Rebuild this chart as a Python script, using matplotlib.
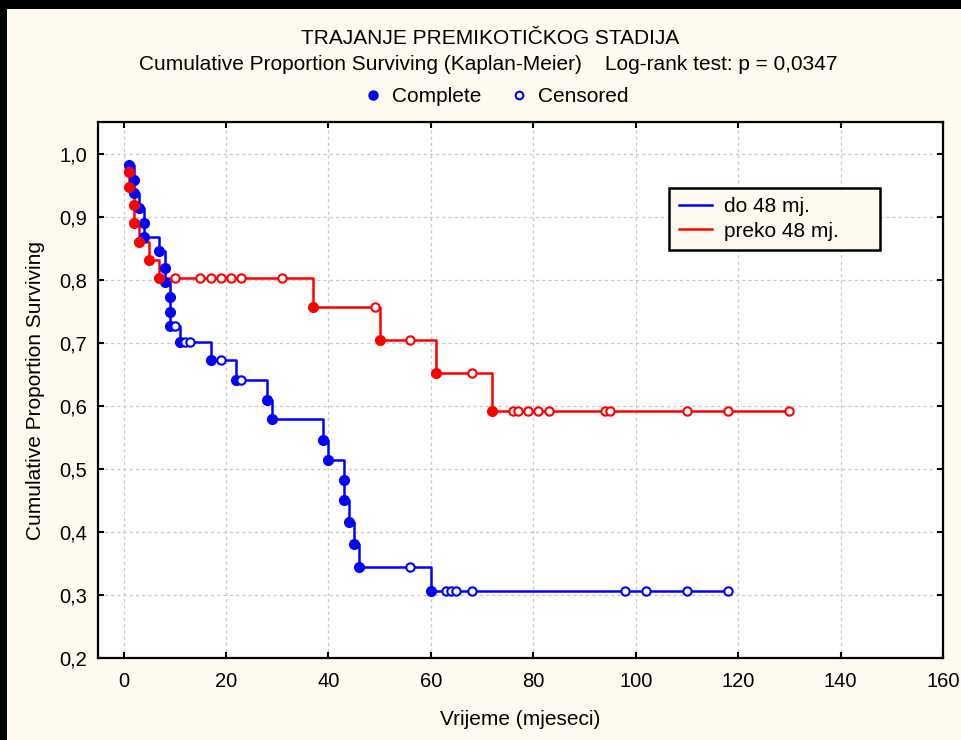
import numpy as np
import matplotlib
matplotlib.use('Agg')
import matplotlib.pyplot as plt
from matplotlib.lines import Line2D
from matplotlib.patches import Rectangle

plt.rcParams['font.family'] = ['Liberation Sans', 'DejaVu Sans']

# ---------------- data ----------------
title = "TRAJANJE PREMIKOTIČKOG STADIJA"
subtitle = "Cumulative Proportion Surviving (Kaplan-Meier)    Log-rank test: p = 0,0347"
series_names = ["do 48 mj.", "preko 48 mj."]
marker_names = ["Complete", "Censored"]
x_label = "Vrijeme (mjeseci)"
y_label = "Cumulative Proportion Surviving"
x_ticks = [0, 20, 40, 60, 80, 100, 120, 140, 160]
y_ticks = [0.2, 0.3, 0.4, 0.5, 0.6, 0.7, 0.8, 0.9, 1.0]

do48_event_t = [1, 2, 2, 3, 4, 4, 7, 8, 8, 9, 9, 9, 11, 17, 22, 28, 29,
                39, 40, 43, 43, 44, 45, 46, 60]
do48_event_s = [0.982, 0.958, 0.937, 0.913, 0.890, 0.867, 0.845, 0.819, 0.796,
                0.772, 0.749, 0.727, 0.701, 0.673, 0.641, 0.609, 0.579, 0.546,
                0.514, 0.483, 0.451, 0.415, 0.381, 0.345, 0.307]
do48_cens_t = [10, 12, 13, 19, 23, 56, 63, 64, 65, 68, 98, 102, 110, 118]

preko48_event_t = [1, 1, 2, 2, 3, 5, 7, 37, 50, 61, 72]
preko48_event_s = [0.971, 0.947, 0.918, 0.890, 0.860, 0.831, 0.803, 0.756,
                   0.705, 0.652, 0.592]
preko48_cens_t = [10, 15, 17, 19, 21, 23, 31, 49, 56, 68, 76, 77, 79, 81, 83,
                  94, 95, 110, 118, 130]

colors = ["#0000FF", "#FF0000"]
cream = "#FEFAEF"

# ---------------- figure ----------------
W, H = 962, 740
fig = plt.figure(figsize=(W / 100, H / 100), dpi=100, facecolor=cream)

# black frame bands (top / left) like the screenshot
fig.add_artist(Rectangle((0, 1 - 9 / H), 1, 9 / H, transform=fig.transFigure,
                         facecolor="black", edgecolor="none", zorder=0))
fig.add_artist(Rectangle((0, 0), 7 / W, 1, transform=fig.transFigure,
                         facecolor="black", edgecolor="none", zorder=0))

ax = fig.add_axes([98 / W, 1 - 658 / H, (943 - 98) / W, (658 - 122) / H])
ax.set_facecolor("white")
ax.set_xlim(-5, 160)
ax.set_ylim(0.2, 1.05)


def km_series(ev_t, ev_s, cens_t, color, name):
    ev_t = np.asarray(ev_t, float)
    ev_s = np.asarray(ev_s, float)
    cens_t = np.asarray(cens_t, float)
    end_t = max(ev_t.max(), cens_t.max())
    xs = np.concatenate([ev_t, [end_t]])
    ys = np.concatenate([ev_s, [ev_s[-1]]])
    ax.step(xs, ys, where="post", color=color, lw=1.8, zorder=3, label=name)
    ax.plot(ev_t, ev_s, "o", color=color, ms=7.0, mec=color, zorder=4)
    idx = np.searchsorted(ev_t, cens_t, side="right") - 1
    cy = ev_s[idx]
    ax.plot(cens_t, cy, "o", mfc="white", mec=color, mew=1.5, ms=6.0, zorder=4)


km_series(do48_event_t, do48_event_s, do48_cens_t, colors[0], series_names[0])
km_series(preko48_event_t, preko48_event_s, preko48_cens_t, colors[1], series_names[1])

ax.set_xticks(x_ticks)
ax.set_xticklabels([str(v) for v in x_ticks])
ax.set_yticks(y_ticks)
ax.set_yticklabels([f"{v:.1f}".replace(".", ",") for v in y_ticks])
ax.tick_params(direction="in", length=4, width=1.5, labelsize=14.5,
               top=True, right=True, color="black")
ax.tick_params(axis="x", pad=10)
ax.tick_params(axis="y", pad=8)
ax.grid(True, color="#C8C8C8", linestyle=(0, (2.5, 2.5)), linewidth=0.9)
ax.set_axisbelow(True)
for sp in ax.spines.values():
    sp.set_linewidth(1.6)
    sp.set_color("black")

ax.set_xlabel(x_label, fontsize=15, labelpad=14)
ax.set_ylabel(y_label, fontsize=15, labelpad=10)

leg = ax.legend(loc="upper left", bbox_to_anchor=(0.676, 0.765, 0.249, 0.112),
                mode="expand", borderaxespad=0, fancybox=False, framealpha=1,
                facecolor=cream, edgecolor="black", fontsize=15,
                handlelength=1.6, handletextpad=0.6, borderpad=0.45,
                labelspacing=0.25)
leg.get_frame().set_linewidth(1.8)

fig.text(0.509, 1 - 39 / H, title, ha="center", va="center", fontsize=15)
fig.text(0.508, 1 - 65 / H, subtitle, ha="center", va="center", fontsize=15)

handles = [Line2D([], [], marker="o", linestyle="none", color=colors[0],
                  ms=6.5),
           Line2D([], [], marker="o", linestyle="none", mfc="white",
                  mec=colors[0], mew=1.5, ms=5.5)]
fig.legend(handles, marker_names, loc="center", ncol=2,
           bbox_to_anchor=(0.514, 1 - 97 / H), frameon=False, fontsize=15,
           handletextpad=0.3, columnspacing=1.2, handlelength=1.2)

fig.savefig("out.png", dpi=100, facecolor=fig.get_facecolor())
